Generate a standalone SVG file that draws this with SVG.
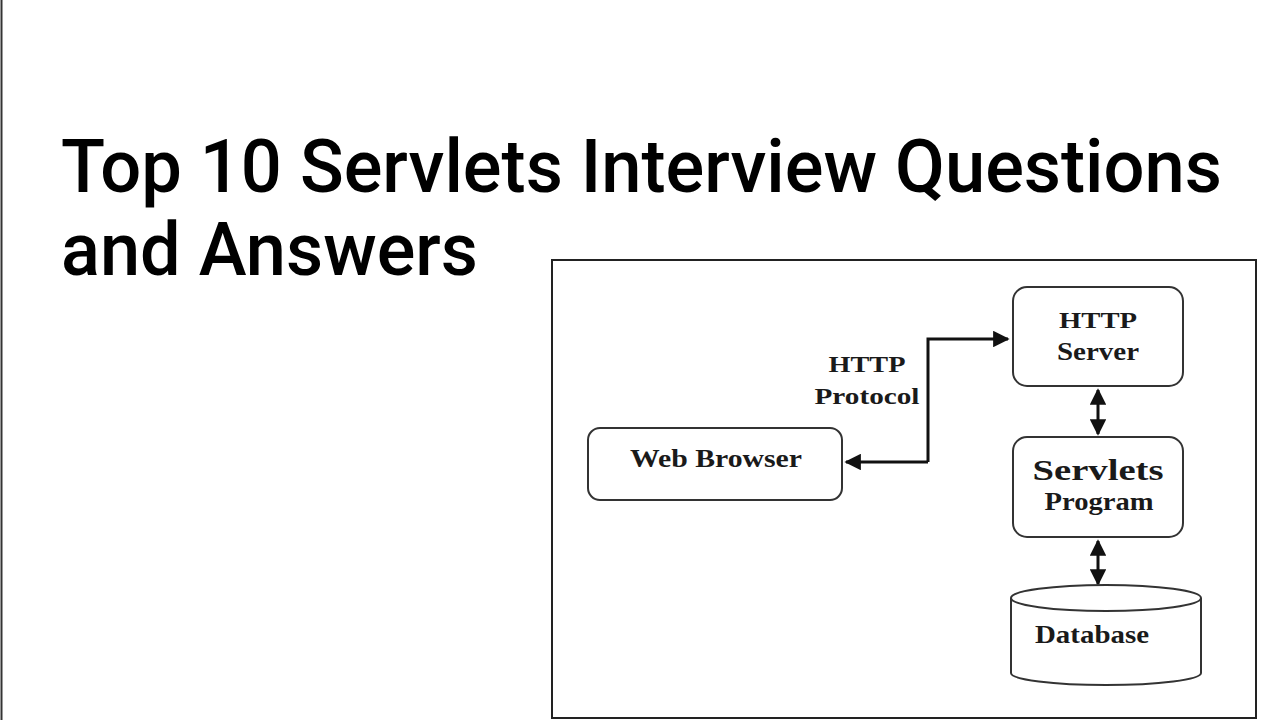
<svg xmlns="http://www.w3.org/2000/svg" width="1280" height="720" viewBox="0 0 1280 720">
<style>
.title{font-family:Roboto,"Noto Sans",sans-serif;font-weight:500;font-size:74px;fill:#000}
.box{fill:#fff;stroke:#333;stroke-width:2}
.lbl{font-family:"Liberation Serif","DejaVu Serif",serif;font-weight:bold;fill:#1a1a1a;text-anchor:middle}
.conn{fill:none;stroke:#111;stroke-width:3}
</style>
<defs>
<marker id="ah" viewBox="0 0 10 10" refX="9" refY="5" markerWidth="5.5" markerHeight="5.5" markerUnits="strokeWidth" orient="auto-start-reverse">
<path d="M0,0 L10,5 L0,10 z" fill="#111"/>
</marker>
</defs>
<rect width="1280" height="720" fill="#fff"/>
<line x1="1.5" y1="0" x2="1.5" y2="720" stroke="#333" stroke-width="2"/>
<g id="title">
<text class="title" x="61" y="192" textLength="1161" lengthAdjust="spacingAndGlyphs">Top 10 Servlets Interview Questions</text>
<text class="title" x="61" y="275" textLength="417" lengthAdjust="spacingAndGlyphs">and Answers</text>
</g>
<g id="frame">
<rect x="552" y="260" width="704" height="458" fill="#fff" stroke="#222" stroke-width="2"/>
</g>
<g id="connectors">
<path class="conn" d="M928,462 L928,339 L1008,339" marker-end="url(#ah)"/>
<path class="conn" d="M928,462 L846,462" marker-end="url(#ah)"/>
<path class="conn" d="M1098,390 L1098,434" marker-start="url(#ah)" marker-end="url(#ah)"/>
<path class="conn" d="M1098,541 L1098,584" marker-start="url(#ah)" marker-end="url(#ah)"/>
</g>
<g id="label-protocol">
<text class="lbl" x="867" y="372" font-size="24" textLength="77" lengthAdjust="spacingAndGlyphs">HTTP</text>
<text class="lbl" x="867" y="404" font-size="24" textLength="105" lengthAdjust="spacingAndGlyphs">Protocol</text>
</g>
<g id="web-browser">
<rect class="box" x="588" y="428" width="254" height="72" rx="12"/>
<text class="lbl" x="716" y="467" font-size="26" textLength="172" lengthAdjust="spacingAndGlyphs">Web Browser</text>
</g>
<g id="http-server">
<rect class="box" x="1013" y="287" width="170" height="99" rx="14"/>
<text class="lbl" x="1098" y="328" font-size="24" textLength="78" lengthAdjust="spacingAndGlyphs">HTTP</text>
<text class="lbl" x="1098" y="360" font-size="25" textLength="82" lengthAdjust="spacingAndGlyphs">Server</text>
</g>
<g id="servlets-program">
<rect class="box" x="1013" y="437" width="170" height="100" rx="14"/>
<text class="lbl" x="1098" y="480" font-size="29" textLength="131" lengthAdjust="spacingAndGlyphs">Servlets</text>
<text class="lbl" x="1099" y="510" font-size="25" textLength="109" lengthAdjust="spacingAndGlyphs">Program</text>
</g>
<g id="database">
<path class="box" d="M1011,598 L1011,673 A95,12 0 0 0 1201,673 L1201,598"/>
<ellipse class="box" cx="1106" cy="598" rx="95" ry="13"/>
<text class="lbl" x="1092" y="643" font-size="26" textLength="114" lengthAdjust="spacingAndGlyphs">Database</text>
</g>
</svg>
